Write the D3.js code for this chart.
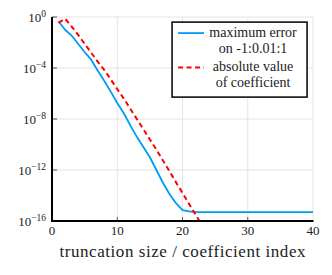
<!DOCTYPE html>
<html>
<head>
<meta charset="utf-8">
<script src="https://cdn.jsdelivr.net/npm/d3@7"></script>
<style>
  svg text { font-family: "Liberation Serif" !important; }
</style>
</head>
<body style="margin:0">
<div id="plot"></div>
<script>
var svgWidth = 332;
var svgHeight = 275;

var margin = { top: 17, right: 19, bottom: 54, left: 52 };
var width = svgWidth - margin.left - margin.right;
var height = svgHeight - margin.top - margin.bottom;

// maximum error on -1:0.01:1 for truncation size n = 1..40
var errN = d3.range(1, 41);
var errVals = [4.6e-1, 1.0e-1, 3.5e-2, 7.9e-3, 1.8e-3, 4.5e-4, 6.3e-5, 1.0e-5, 1.4e-6, 1.8e-7,
               2.8e-8, 3.2e-9, 4.0e-10, 6.3e-11, 1.0e-11, 1.0e-12, 1.0e-13, 1.3e-14, 2.5e-15, 7.1e-16,
               5.6e-16, 5.0e-16, 5.0e-16, 5.0e-16, 5.0e-16, 5.0e-16, 5.0e-16, 5.0e-16, 5.0e-16, 5.0e-16,
               5.0e-16, 5.0e-16, 5.0e-16, 5.0e-16, 5.0e-16, 5.0e-16, 5.0e-16, 5.0e-16, 5.0e-16, 5.0e-16];

// absolute value of coefficient k = 1..23
var coefK = d3.range(1, 24);
var coefVals = [3.5e-1, 7.4e-1, 1.8e-1, 4.0e-2, 7.9e-3, 1.6e-3, 3.2e-4, 7.1e-5, 1.3e-5, 2.2e-6,
                4.0e-7, 6.3e-8, 1.0e-8, 1.6e-9, 2.5e-10, 4.0e-11, 5.6e-12, 7.9e-13, 1.1e-13, 1.6e-14,
                2.2e-15, 3.2e-16, 4.5e-17];

var xTicks = [0, 10, 20, 30, 40];
var yExps = [0, -4, -8, -12, -16];

var legendLabels = [["maximum error", "on -1:0.01:1"], ["absolute value", "of coefficient"]];

var blue = "#009af9";
var red = "#ff0000";

var svg = d3.select("#plot").append("svg")
  .attr("width", svgWidth)
  .attr("height", svgHeight)
  .attr("font-family", "Liberation Serif");

svg.append("defs").append("clipPath").attr("id", "plotclip")
  .append("rect").attr("width", width).attr("height", height);

var chartGroup = svg.append("g")
  .attr("transform", `translate(${margin.left}, ${margin.top})`);

var xScale = d3.scaleLinear().domain([0, 40]).range([0, width]);
var yScale = d3.scaleLog().domain([1e-16, 1]).range([height, 0]);

// gridlines
chartGroup.append("g")
  .selectAll("line")
  .data(xTicks.slice(1))
  .enter().append("line")
  .attr("x1", d => xScale(d)).attr("x2", d => xScale(d))
  .attr("y1", 0).attr("y2", height)
  .attr("stroke", "#e4e4e4").attr("stroke-width", 1);

chartGroup.append("g")
  .selectAll("line")
  .data(yExps.slice(0, -1))
  .enter().append("line")
  .attr("x1", 0).attr("x2", width)
  .attr("y1", d => yScale(Math.pow(10, d))).attr("y2", d => yScale(Math.pow(10, d)))
  .attr("stroke", "#e4e4e4").attr("stroke-width", 1);

// small inward ticks
chartGroup.append("g")
  .selectAll("line")
  .data(xTicks.slice(1, -1))
  .enter().append("line")
  .attr("x1", d => xScale(d)).attr("x2", d => xScale(d))
  .attr("y1", height).attr("y2", height - 4)
  .attr("stroke", "#555").attr("stroke-width", 1);

chartGroup.append("g")
  .selectAll("line")
  .data(yExps.slice(0, -1))
  .enter().append("line")
  .attr("x1", 0).attr("x2", 5)
  .attr("y1", d => yScale(Math.pow(10, d))).attr("y2", d => yScale(Math.pow(10, d)))
  .attr("stroke", "#555").attr("stroke-width", 1);

// series
var lines = chartGroup.append("g").attr("clip-path", "url(#plotclip)");

lines.append("path")
  .datum(errN.map((n, i) => [n, errVals[i]]))
  .attr("fill", "none")
  .attr("stroke", blue)
  .attr("stroke-width", 1.8)
  .attr("stroke-linejoin", "round")
  .attr("d", d3.line().x(d => xScale(d[0])).y(d => yScale(d[1])));

lines.append("path")
  .datum(coefK.map((k, i) => [k, coefVals[i]]))
  .attr("fill", "none")
  .attr("stroke", red)
  .attr("stroke-width", 2)
  .attr("stroke-dasharray", "5,3.5")
  .attr("d", d3.line().x(d => xScale(d[0])).y(d => yScale(d[1])));

// axes
chartGroup.append("line")
  .attr("x1", 0).attr("x2", 0).attr("y1", 0).attr("y2", height + 1)
  .attr("stroke", "#000").attr("stroke-width", 2);
chartGroup.append("line")
  .attr("x1", -1).attr("x2", width + 0.5).attr("y1", height).attr("y2", height)
  .attr("stroke", "#000").attr("stroke-width", 2);

// tick labels
chartGroup.append("g")
  .selectAll("text")
  .data(xTicks)
  .enter().append("text")
  .attr("x", d => xScale(d))
  .attr("y", height + 14)
  .attr("text-anchor", "middle")
  .attr("font-family", "Liberation Serif")
  .attr("font-size", "13px")
  .attr("fill", "#222")
  .text(d => d);

var yLab = chartGroup.append("g")
  .selectAll("text")
  .data(yExps)
  .enter().append("text")
  .attr("x", -6)
  .attr("y", d => yScale(Math.pow(10, d)) + 5)
  .attr("text-anchor", "end")
  .attr("font-family", "Liberation Serif")
  .attr("font-size", "13px")
  .attr("fill", "#222");
yLab.append("tspan").text("10");
yLab.append("tspan")
  .attr("dy", -5)
  .attr("font-size", "9.5px")
  .text(d => d === 0 ? "0" : "\u2212" + Math.abs(d));

chartGroup.append("text")
  .attr("x", width / 2)
  .attr("y", height + 36)
  .attr("text-anchor", "middle")
  .attr("font-family", "Liberation Serif")
  .attr("font-size", "17px")
  .attr("fill", "#222")
  .attr("textLength", 246)
  .attr("lengthAdjust", "spacing")
  .text("truncation size / coefficient index");

// legend
var legend = chartGroup.append("g")
  .attr("transform", `translate(${xScale(18.4)}, ${yScale(Math.pow(10, -0.4))})`);

legend.append("rect")
  .attr("width", 135).attr("height", 75)
  .attr("fill", "#fff").attr("stroke", "#000").attr("stroke-width", 1.5);

legend.append("line")
  .attr("x1", 6).attr("x2", 32).attr("y1", 11).attr("y2", 11)
  .attr("stroke", blue).attr("stroke-width", 1.8);
legend.append("line")
  .attr("x1", 6).attr("x2", 32).attr("y1", 45.5).attr("y2", 45.5)
  .attr("stroke", red).attr("stroke-width", 2).attr("stroke-dasharray", "5,3.5");

legendLabels.forEach(function(pair, i) {
  legend.append("text")
    .attr("x", 81).attr("y", 15 + i * 34)
    .attr("text-anchor", "middle")
    .attr("font-family", "Liberation Serif")
    .attr("font-size", "14px")
    .attr("fill", "#222")
    .text(pair[0]);
  legend.append("text")
    .attr("x", 81).attr("y", 31 + i * 34)
    .attr("text-anchor", "middle")
    .attr("font-family", "Liberation Serif")
    .attr("font-size", "14px")
    .attr("fill", "#222")
    .text(pair[1]);
});
</script>
</body>
</html>
